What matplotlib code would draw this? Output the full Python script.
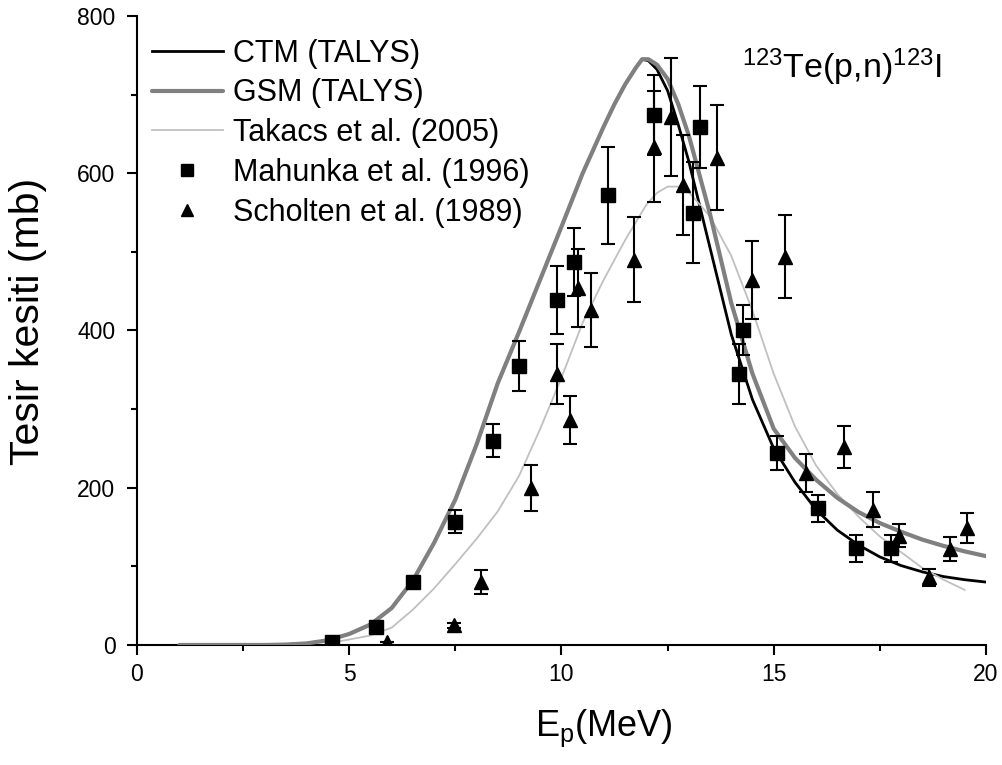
import matplotlib
matplotlib.use("Agg")
import matplotlib.pyplot as plt
from matplotlib.lines import Line2D
from matplotlib.ticker import MultipleLocator

# ---- data ----
th_E = [1, 2, 3, 3.5, 4, 4.5, 5, 5.5, 6, 6.5, 7, 7.5, 8, 8.5, 9, 9.5, 10, 10.5, 11,
        11.25, 11.5, 11.75, 11.9, 12.05, 12.25, 12.5, 12.75, 13, 13.5, 14, 14.5, 15, 15.5,
        16, 16.5, 17, 17.5, 18, 18.5, 19, 19.5, 20]
gsm = [0, 0, 0, 0.5, 2, 6, 14, 26, 47, 82, 130, 185, 255, 333, 398, 465, 532, 600, 660,
       688, 713, 734, 745, 745, 738, 720, 688, 648, 548, 435, 345, 275, 238,
       210, 187, 169, 155, 144, 134, 126, 119, 113]
ctm = [0, 0, 0, 0.5, 2, 6, 14, 26, 47, 82, 130, 185, 255, 333, 398, 465, 532, 600, 660,
       688, 713, 734, 745, 743, 732, 705, 662, 615, 505, 395, 312, 250, 207,
       172, 146, 127, 112, 101, 93, 87, 83, 80]

tk_E = [4.6, 5, 5.5, 6, 6.5, 7, 7.5, 8, 8.5, 9, 9.5, 10, 10.5, 11, 11.5, 12, 12.25,
        12.5, 12.75, 13, 13.5, 14, 14.5, 15, 15.5, 16, 16.5, 17, 17.5, 18, 18.5, 19, 19.5]
tk_s = [3, 7, 12, 22, 45, 72, 103, 135, 170, 215, 275, 340, 410, 465, 515, 560, 575,
        583, 583, 576, 545, 495, 425, 345, 278, 228, 192, 163, 138, 118, 98, 83, 70]

mah_E = [4.6, 5.63, 6.5, 7.49, 8.39, 9.0, 9.9, 10.3, 11.1, 12.18, 13.1, 13.27, 14.18,
         14.28, 15.07, 16.05, 16.95, 17.76]
mah_s = [4, 23, 80, 157, 260, 355, 439, 487, 572, 674, 550, 659, 345, 401, 244, 174, 123, 123]
mah_err = [0, 0, 0, 15, 21, 32, 43, 43, 62, 51, 64, 52, 38, 32, 22, 17, 17, 17]

sch_E = [5.9, 7.47, 8.1, 9.28, 9.9, 10.2, 10.4, 10.7, 11.7, 12.18, 12.58, 12.87, 13.67,
         14.5, 15.26, 15.76, 16.65, 17.35, 17.95, 18.65, 19.15, 19.55]
sch_s = [4, 25, 80, 200, 345, 286, 454, 426, 490, 634, 672, 585, 620, 464, 494, 219,
         252, 172, 139, 86, 122, 149]
sch_err = [0, 3, 15, 29, 38, 31, 50, 47, 54, 70, 75, 64, 67, 50, 53, 24, 27, 22, 15,
           11, 15, 19]

labels = ["CTM (TALYS)", "GSM (TALYS)", "Takacs et al. (2005)",
          "Mahunka et al. (1996)", "Scholten et al. (1989)"]

# ---- styling ----
regular = ["Liberation Sans", "DejaVu Sans"]
plt.rcParams["font.family"] = regular

fig = plt.figure(figsize=(10.02, 7.65), dpi=100)
ax = fig.add_axes([0.1367, 0.1569, 0.8473, 0.8222])

ax.plot(th_E, ctm, color="black", lw=2.0, zorder=2)
ax.plot(th_E, gsm, color="#808080", lw=3.0, zorder=3, solid_capstyle="round",
        solid_joinstyle="round")
ax.plot(tk_E, tk_s, color="#c0c0c0", lw=1.3, zorder=2.5)

ax.errorbar(mah_E, mah_s, yerr=mah_err, fmt="s", color="black", ms=9.5,
            elinewidth=1.5, capsize=5, capthick=1.5, zorder=4)
ax.errorbar(sch_E, sch_s, yerr=sch_err, fmt="^", color="black", ms=10,
            elinewidth=1.5, capsize=5, capthick=1.5, zorder=4)

ax.set_xlim(0, 20)
ax.set_ylim(0, 800)
ax.xaxis.set_major_locator(MultipleLocator(5))
ax.xaxis.set_minor_locator(MultipleLocator(2.5))
ax.yaxis.set_major_locator(MultipleLocator(200))
ax.yaxis.set_minor_locator(MultipleLocator(100))
for s in ("top", "right"):
    ax.spines[s].set_visible(False)
for s in ("left", "bottom"):
    ax.spines[s].set_linewidth(1.5)
ax.tick_params(which="major", direction="out", length=7, width=1.5)
ax.tick_params(which="minor", direction="out", length=4.5, width=1.5)
ax.tick_params(axis="x", which="major", pad=6)
ax.tick_params(axis="y", which="major", pad=8.5)
for lab in ax.get_xticklabels() + ax.get_yticklabels():
    lab.set_fontsize(16.5)

ax.set_xlabel(r"$\mathregular{E_p(MeV)}$", fontsize=26)
ax.xaxis.set_label_coords(0.55, -0.10)
ax.set_ylabel("Tesir kesiti (mb)", fontsize=29.5)
ax.yaxis.set_label_coords(-0.106, 0.515)

handles = [
    Line2D([], [], color="black", lw=2.0),
    Line2D([], [], color="#808080", lw=3.0, solid_capstyle="round"),
    Line2D([], [], color="#c0c0c0", lw=1.3),
    Line2D([], [], color="black", marker="s", ls="none", ms=8),
    Line2D([], [], color="black", marker="^", ls="none", ms=9),
]
ax.legend(handles, labels, loc="upper left", bbox_to_anchor=(0.018, 0.964),
          frameon=False, fontsize=22, handlelength=2.3, handletextpad=0.35,
          labelspacing=0.32, borderpad=0, borderaxespad=0)

fig.text(742 / 1002, 1 - 78 / 765, r"$\mathregular{^{123}Te(p{,}n)^{123}I}$",
         fontsize=24.5, va="baseline", ha="left")

fig.savefig("out.png", dpi=100)
